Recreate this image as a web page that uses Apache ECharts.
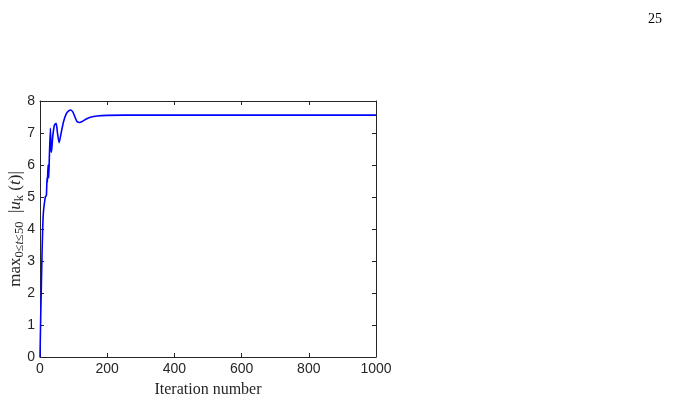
<!DOCTYPE html>
<html>
<head>
<meta charset="utf-8">
<script src="https://cdn.jsdelivr.net/npm/echarts@6/dist/echarts.min.js"></script>
<style>
html,body{margin:0;padding:0;background:#fff;}
#c{width:675px;height:401px;}
</style>
</head>
<body>
<div id="c"></div>
<script>
const iterations = [0,2,4,6,8,10,13,16,19,21,22,24,26,28,31,33,35,38,43,48,52,57,62,70,78,86,92,98,104,110,118,124,135,150,170,200,250,1000];
const maxAmplitude = [0,1.2,2.2,3.2,4.0,4.5,4.8,5.0,5.05,5.6,5.45,6.0,5.6,6.3,7.15,6.4,6.5,6.9,7.25,7.3,7.0,6.7,6.95,7.35,7.6,7.7,7.72,7.65,7.5,7.36,7.33,7.35,7.42,7.49,7.53,7.55,7.56,7.56];
const xTicks = [0,200,400,600,800,1000];
const yTicks = [0,1,2,3,4,5,6,7,8];
const pageNumber = '25';

const chart = echarts.init(document.getElementById('c'));
const tickStyle = {show:true, inside:true, length:4, lineStyle:{color:'#262626', width:1}};
const labelFont = {fontFamily:'Liberation Sans, Arial, sans-serif', fontSize:14, color:'#262626'};
const serif = 'Liberation Serif, serif';
chart.setOption({
  animation:false,
  title:{text:pageNumber, right:8, top:7, textStyle:{fontFamily:serif, fontSize:14, fontWeight:'normal', color:'#000'}},
  grid:{left:40, right:299, top:101, bottom:44, containLabel:false, outerBoundsMode:'none'},
  xAxis:[{
    type:'value', min:xTicks[0], max:xTicks[xTicks.length-1], interval:200,
    axisLine:{show:true, onZero:false, lineStyle:{color:'#262626', width:1}},
    axisTick:tickStyle, splitLine:{show:false},
    axisLabel:Object.assign({margin:5, formatter:v=>String(v)}, labelFont),
    name:'Iteration number', nameLocation:'middle', nameGap:25, nameMoveOverlap:false,
    nameTextStyle:{fontFamily:serif, fontSize:16, color:'#262626'}
  },{
    type:'value', position:'top', min:0, max:1000, interval:200,
    axisLine:{show:true, onZero:false, lineStyle:{color:'#262626', width:1}},
    axisTick:tickStyle, axisLabel:{show:false}, splitLine:{show:false}
  }],
  yAxis:[{
    type:'value', min:yTicks[0], max:yTicks[yTicks.length-1], interval:1,
    axisLine:{show:true, onZero:false, lineStyle:{color:'#262626', width:1}},
    axisTick:tickStyle, splitLine:{show:false},
    axisLabel:Object.assign({margin:5}, labelFont),
    name:'{n|max}{s|0≤}{si|t}{s|≤50}{n|  |}{i|u}{s|k}{n| (}{i|t}{n|)|}',
    nameLocation:'middle', nameRotate:90, nameGap:14, nameMoveOverlap:false,
    nameTextStyle:{
      fontFamily:serif, fontSize:17, color:'#262626',
      rich:{
        n:{fontFamily:serif, fontSize:17, color:'#262626'},
        i:{fontFamily:serif, fontSize:17, fontStyle:'italic', color:'#262626'},
        s:{fontFamily:serif, fontSize:12.5, color:'#262626', verticalAlign:'bottom', padding:[7,0,0,0]},
        si:{fontFamily:serif, fontSize:12.5, fontStyle:'italic', color:'#262626', verticalAlign:'bottom', padding:[7,0,0,0]}
      }
    }
  },{
    type:'value', position:'right', min:0, max:8, interval:1,
    axisLine:{show:true, onZero:false, lineStyle:{color:'#262626', width:1}},
    axisTick:tickStyle, axisLabel:{show:false}, splitLine:{show:false}
  }],
  series:[{
    type:'line', xAxisIndex:0, yAxisIndex:0,
    data:iterations.map((x,i)=>[x, maxAmplitude[i]]),
    showSymbol:false, smooth:0.2,
    lineStyle:{color:'#0000ff', width:1.6}
  }]
});
</script>
</body>
</html>
